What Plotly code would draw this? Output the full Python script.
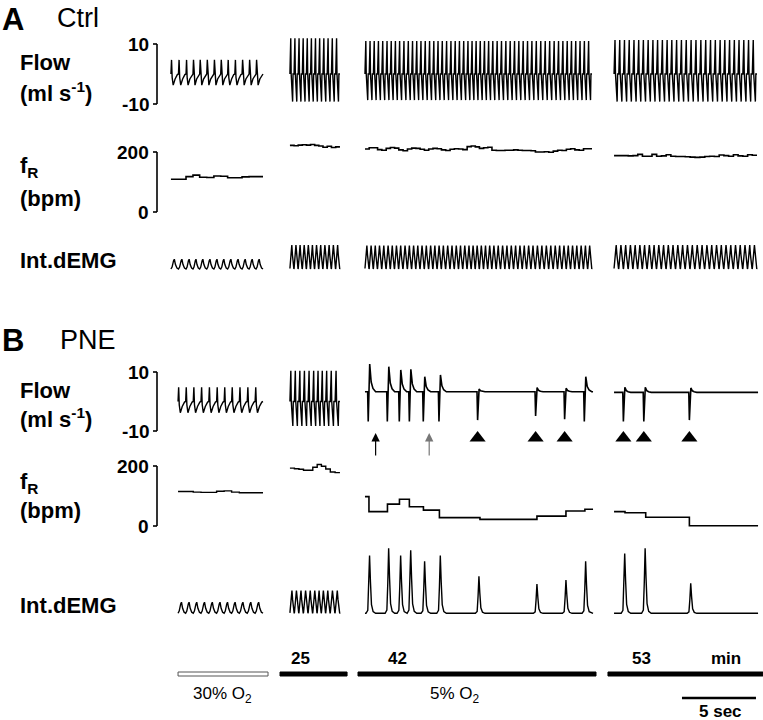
import numpy as np
import plotly.graph_objects as go

W, H = 763, 720
PX_PER_S = 14.8          # time scale of the traces (5 s bar = 74 px)
FONT = "Arial, Liberation Sans, sans-serif"

# ---------------- data ----------------
# recording windows on a common display time axis (s)
ctrl_win = [(11.55, 17.77), (19.59, 22.97), (24.66, 40.0), (41.49, 51.15)]
pne_win = [(12.03, 17.77), (19.59, 22.97), (24.66, 40.07), (41.49, 51.22)]

# Ctrl: breath-by-breath fR (bpm) in each window
ctrl_fr = [
    [109, 109, 118, 123, 116, 115, 120, 119, 114, 114, 117, 118, 118],
    [222, 221, 223, 224, 223, 225, 222, 220, 216, 219, 215, 217],
    [210, 214, 214, 208, 206, 212, 215, 213, 207, 204, 210, 213, 212, 209,
     206, 210, 212, 211, 207, 205, 209, 211, 210, 208, 218, 220, 217, 212,
     214, 216, 206, 205, 205, 206, 206, 207, 206, 205, 205, 204, 200, 200,
     201, 199, 203, 206, 205, 209, 211, 207, 206, 211, 211],
    [188, 188, 188, 187, 188, 192, 186, 186, 192, 186, 187, 191, 186, 185,
     185, 184, 183, 182, 183, 185, 186, 185, 190, 188, 186, 191, 187, 186,
     191, 189],
]
ctrl_flow_insp = [4.7, 11.9, 11.0, 11.3]     # ml/s, peak
ctrl_flow_exp = [3.7, 9.2, 8.7, 9.2]         # ml/s, peak (negative direction)
ctrl_emg_amp = [0.15, 0.37, 0.36, 0.37]      # a.u.

# PNE: regular windows (30% O2 and 25 min)
pne_fr = [
    [115, 115, 113, 112, 112, 116, 117, 113, 111, 111, 111],
    [193, 191, 189, 186, 186, 196, 205, 199, 190, 180, 178],
]
pne_flow_insp = [4.8, 10.4]
pne_flow_exp = [3.8, 8.3]
pne_emg_amp = [0.17, 0.35]

# PNE: 42 min window, single breaths (s from window start)
pne_t42 = [0.22, 1.51, 2.32, 3.0, 3.94, 5.0, 7.61, 11.53, 13.49, 14.82]
pne_top42 = [12.7, 11.8, 10.7, 10.9, 8.4, 9.0, 4.2, 4.7, 4.5, 8.4]
pne_bot42 = [-6.8, -6.8, -6.8, -6.8, -6.8, -6.8, -6.3, -4.9, -6.0, -6.8]
pne_emg42 = [0.89, 1.0, 0.89, 0.97, 0.8, 0.89, 0.57, 0.45, 0.51, 0.8]
pne_frt42 = [0, 0.27, 1.52, 2.33, 3.0, 3.95, 5.03, 7.77, 11.62, 13.58, 14.86]
pne_frv42 = [98, 48, 73, 89, 64, 53, 28, 22, 33, 50, 56]

# PNE: 53 min window
pne_t53 = [0.63, 2.01, 5.09]
pne_top53 = [4.8, 4.8, 4.6]
pne_bot53 = [-6.8, -6.8, -6.3]
pne_emg53 = [0.92, 1.0, 0.46]
pne_frt53 = [0, 0.74, 2.14, 5.09]
pne_frv53 = [48, 44, 29, 1]
pne_base = [3.3, 3.1]          # flow baseline in 42 / 53 min windows

arrow_t42 = [0.72, 4.34]       # arrows, s from 42 min window start
marked_42 = [6, 7, 8]          # breaths marked with a triangle
marked_53 = [0, 1, 2]

minutes = ["25", "42", "53"]
o2_bars = [(12.03, 18.11), (18.92, 23.45), (24.19, 40.27), (41.08, 51.55)]

# ---------------- breath templates ----------------
EUP_FLOW_PH = [0, 0.08, 0.16, 0.3, 0.55, 0.85]
EUP_FLOW_V = [0, 1, -0.3, -1, -0.45, -0.05]
FAST_FLOW_PH = [0, 0.2, 0.3, 0.65, 0.75]
FAST_FLOW_V = [0, 1, 0.0, -1, 0.0]
EUP_EMG_PH = [0, 0.15, 0.35, 0.45, 0.6, 0.8]
EUP_EMG_V = [0, 0.2, 0.85, 1, 0.45, 0.1]
FAST_EMG_PH = [0, 0.45, 0.6, 0.95]
FAST_EMG_V = [0.02, 1, 0.6, 0]
ISO_FLOW_DT = [-0.04, 0, 0.1, 0.2, 0.32, 0.5]
ISO_EMG_DT = [-0.15, -0.03, 0.03, 0.09, 0.15, 0.22, 0.33, 0.5]
ISO_EMG_V = [0, 0.05, 0.45, 1, 0.55, 0.15, 0.03, 0]


def edges(win, fr):
    iv = 60.0 / np.asarray(fr, float)
    iv *= (win[1] - win[0]) / iv.sum()
    return win[0] + np.concatenate([[0], np.cumsum(iv)])


def cyclic(ed, ph, v, pos, neg):
    xs, ys = [], []
    for a, b in zip(ed[:-1], ed[1:]):
        for p, s in zip(ph, v):
            xs.append(a + p * (b - a))
            ys.append(s * pos if s > 0 else s * neg)
    xs.append(ed[-1])
    ys.append(v[0])
    return xs, ys


def iso_flow(win, t, top, bot, base):
    xs, ys = [win[0]], [base]
    for ti, tp, bt in zip(t, top, bot):
        dv = [0, bt - base, tp - base, 0.35 * (tp - base), 0.12 * (tp - base), 0]
        for d, v in zip(ISO_FLOW_DT, dv):
            xs.append(win[0] + ti + d)
            ys.append(base + v)
    xs.append(win[1])
    ys.append(base)
    return xs, ys


def iso_emg(win, t, pk):
    xs, ys = [win[0]], [0]
    for ti, a in zip(t, pk):
        for d, v in zip(ISO_EMG_DT, ISO_EMG_V):
            xs.append(win[0] + ti + d)
            ys.append(a * v)
    xs.append(win[1])
    ys.append(0)
    return xs, ys


def yrange(v1, p1, v2, p2):
    # y axis spans the whole page: find range giving value v at pixel p
    s = (p2 - p1) / (v2 - v1)
    return [v1 + (H - p1) / s, v1 + (0 - p1) / s]


def yp(px):
    return 1 - px / H


fig = go.Figure()


def line(xs, ys, yax, shape="linear", width=1.4):
    fig.add_trace(go.Scatter(x=xs, y=ys, yaxis=yax, mode="lines",
                             line=dict(color="black", width=width, shape=shape),
                             showlegend=False, hoverinfo="skip"))


# ---- panel A (Ctrl) ----
for i, win in enumerate(ctrl_win):
    ed = edges(win, ctrl_fr[i])
    fph, fv = (EUP_FLOW_PH, EUP_FLOW_V) if i == 0 else (FAST_FLOW_PH, FAST_FLOW_V)
    eph, ev = (EUP_EMG_PH, EUP_EMG_V) if i == 0 else (FAST_EMG_PH, FAST_EMG_V)
    line(*cyclic(ed, fph, fv, ctrl_flow_insp[i], ctrl_flow_exp[i]), "y")
    line(list(ed), ctrl_fr[i] + [ctrl_fr[i][-1]], "y2", "hv", 1.6)
    line(*cyclic(ed, eph, [v * ctrl_emg_amp[i] for v in ev], 1, 1), "y3")

# ---- panel B (PNE) ----
for i in range(2):
    win = pne_win[i]
    ed = edges(win, pne_fr[i])
    fph, fv = (EUP_FLOW_PH, EUP_FLOW_V) if i == 0 else (FAST_FLOW_PH, FAST_FLOW_V)
    eph, ev = (EUP_EMG_PH, EUP_EMG_V) if i == 0 else (FAST_EMG_PH, FAST_EMG_V)
    line(*cyclic(ed, fph, fv, pne_flow_insp[i], pne_flow_exp[i]), "y4")
    line(list(ed), pne_fr[i] + [pne_fr[i][-1]], "y5", "hv", 1.4)
    line(*cyclic(ed, eph, [v * pne_emg_amp[i] for v in ev], 1, 1), "y6")

hyp = [(pne_win[2], pne_t42, pne_top42, pne_bot42, pne_emg42, pne_frt42, pne_frv42, pne_base[0]),
       (pne_win[3], pne_t53, pne_top53, pne_bot53, pne_emg53, pne_frt53, pne_frv53, pne_base[1])]
for win, t, top, bot, pk, frt, frv, base in hyp:
    line(*iso_flow(win, t, top, bot, base), "y4", width=1.6)
    line([win[0] + v for v in frt] + [win[1]], frv + [frv[-1]], "y5", "hv", 1.6)
    line(*iso_emg(win, t, pk), "y6", width=1.4)

# triangles under marked breaths
mark_x = [pne_win[2][0] + pne_t42[k] for k in marked_42] + \
         [pne_win[3][0] + pne_t53[k] for k in marked_53]
fig.add_trace(go.Scatter(x=mark_x, y=[-12.4] * len(mark_x), yaxis="y4", mode="markers",
                         marker=dict(symbol="triangle-up", size=14, color="black"),
                         showlegend=False, hoverinfo="skip"))

# ---------------- axes ----------------
cal = {
    "yaxis": (10, 44, -10, 104),
    "yaxis2": (200, 152, 0, 212),
    "yaxis3": (0, 269, 1, 204),
    "yaxis4": (10, 372, -10, 431),
    "yaxis5": (200, 466, 0, 526),
    "yaxis6": (0, 613.3, 1, 548.3),
}
lay = dict(
    width=W, height=H, margin=dict(l=0, r=0, t=0, b=0),
    paper_bgcolor="white", plot_bgcolor="white",
    xaxis=dict(range=[0, W / PX_PER_S], domain=[0, 1], visible=False),
)
for k, c in cal.items():
    ax = dict(range=yrange(*c), domain=[0, 1], visible=False, anchor="x")
    if k != "yaxis":
        ax["overlaying"] = "y"
    lay[k] = ax
fig.update_layout(**lay)

shapes, ann = [], []
BX, TX = 157 / W, 153 / W


def bracket(yref, lo, hi, labels):
    shapes.append(dict(type="line", xref="paper", yref=yref, x0=BX, x1=BX, y0=lo, y1=hi,
                       line=dict(color="black", width=1.6)))
    for v, s in zip((lo, hi), labels):
        shapes.append(dict(type="line", xref="paper", yref=yref, x0=TX, x1=BX, y0=v, y1=v,
                           line=dict(color="black", width=1.6)))
        ann.append(dict(text="<b>%s</b>" % s, xref="paper", yref=yref, x=151 / W, y=v,
                        xanchor="right", yanchor="middle", showarrow=False,
                        font=dict(size=19, family=FONT, color="black")))


bracket("y", -10, 10, ("-10", "10"))
bracket("y2", 0, 200, ("0", "200"))
bracket("y4", -10, 10, ("-10", "10"))
bracket("y5", 0, 200, ("0", "200"))


def text(s, x, y, size, xanchor="left", bold=True):
    ann.append(dict(text=("<b>%s</b>" % s) if bold else s, xref="paper", yref="paper",
                    x=x / W, y=yp(y), xanchor=xanchor, yanchor="middle", showarrow=False,
                    font=dict(size=size, family=FONT, color="black")))


text("A", 0, 19, 31)
text("Ctrl", 55, 18, 27, bold=False)
text("B", 0, 340, 31)
text("PNE", 58, 340, 27, bold=False)
for top, labs in ((0, (62, 92, 167, 198, 260)), (1, (390, 418, 483, 510, 605))):
    text("Flow", 18, labs[0], 22)
    text("(ml s<sup>-1</sup>)", 18, labs[1], 22)
    text("f<sub>R</sub>", 18, labs[2], 22)
    text("(bpm)", 18, labs[3], 22)
    text("Int.dEMG", 18, labs[4], 22)

# minutes above bars
for m, xc in zip(minutes + ["min"], (300, 398, 641, 726)):
    text(m, xc, 658, 17, "center")
text("30% O<sub>2</sub>", 222, 695, 17, "center", bold=False)
text("5% O<sub>2</sub>", 455, 695, 17, "center", bold=False)
text("5 sec", 720, 711, 17, "center")

# O2 bars
for i, (a, b) in enumerate(o2_bars):
    shapes.append(dict(type="rect", xref="x", yref="paper", x0=a, x1=b, y0=yp(676), y1=yp(672),
                       fillcolor="white" if i == 0 else "black",
                       line=dict(color="#555" if i == 0 else "black", width=1)))
# 5 s scale bar
shapes.append(dict(type="line", xref="x", yref="paper", x0=46.08, x1=46.08 + 5,
                   y0=yp(698), y1=yp(698), line=dict(color="black", width=2.5)))

# arrows
for t, col in zip(arrow_t42, ("black", "#777")):
    ann.append(dict(x=pne_win[2][0] + t, y=yp(433), xref="x", yref="paper", text="",
                    showarrow=True, ax=0, ay=24, arrowhead=2, arrowsize=1.4,
                    arrowwidth=1.2, arrowcolor=col))

fig.update_layout(shapes=shapes, annotations=ann)
fig.write_html("out.html", config={"displayModeBar": False},
               post_script="document.body.style.margin='0';")
